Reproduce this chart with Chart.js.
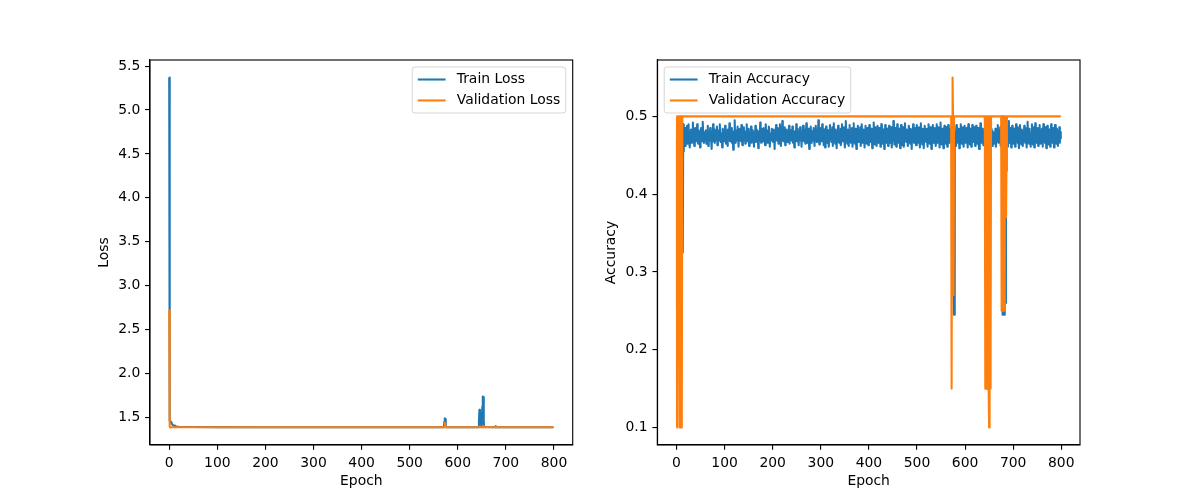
<!DOCTYPE html>
<html>
<head>
<meta charset="utf-8">
<script src="https://cdn.jsdelivr.net/npm/chart.js@4.4.1/dist/chart.umd.min.js"></script>
<style>
html,body{margin:0;padding:0;background:#fff;}
#wrap{position:relative;width:1200px;height:500px;overflow:hidden;}
.panel{position:absolute;top:0;width:600px;height:500px;}
</style>
</head>
<body>
<div id="wrap">
  <div class="panel" style="left:0"><canvas id="lossChart" width="600" height="500"></canvas></div>
  <div class="panel" style="left:600px"><canvas id="accChart" width="600" height="500"></canvas></div>
</div>
<script>
// ---------------- DATA ----------------
const xTicks = [0, 100, 200, 300, 400, 500, 600, 700, 800];
const lossTicks = [1.5, 2.0, 2.5, 3.0, 3.5, 4.0, 4.5, 5.0, 5.5];
const accTicks = [0.1, 0.2, 0.3, 0.4, 0.5];
const epochCount = 800;
const xLabel = 'Epoch';
const lossLabel = 'Loss';
const accLabel = 'Accuracy';
const lossSeriesNames = ['Train Loss', 'Validation Loss'];
const accSeriesNames = ['Train Accuracy', 'Validation Accuracy'];

// Train loss (epoch -> value, segments between listed epochs are flat)
const trainLossEpochs = [0,1,2,3,4,5,6,8,10,12,15,20,30,50,100,200,571,572,573,574,575,576,643,644,645,646,647,648,649,650,651,652,653,654,655,678,679,680,799];
const trainLossValues = [5.37,1.46,1.455,1.45,1.44,1.43,1.42,1.41,1.405,1.40,1.395,1.392,1.39,1.389,1.388,1.387,1.387,1.45,1.49,1.48,1.41,1.387,1.387,1.46,1.585,1.58,1.50,1.42,1.40,1.45,1.62,1.737,1.73,1.45,1.39,1.387,1.40,1.387,1.387];

// Validation loss
const valLossEpochs = [0,1,2,3,5,10,572,573,574,575,645,646,647,652,653,654,678,679,680,799];
const valLossValues = [2.72,1.40,1.384,1.388,1.386,1.386,1.386,1.44,1.40,1.386,1.386,1.395,1.386,1.386,1.40,1.386,1.386,1.392,1.386,1.386];

// Validation accuracy
const valAccEpochs = [0,1,2,3,4,5,6,7,8,9,10,11,12, 571,572,573,574,575,576,577, 641,642,643,644,645,648,649,650,651,652,653,654, 675,676,677,678,679,680,681,682,683,684,685,686,687, 799];
const valAccValues = [0.1,0.5,0.1,0.1,0.5,0.5,0.5,0.1,0.5,0.1,0.5,0.1,0.5, 0.5,0.15,0.5,0.55,0.5,0.27,0.5, 0.5,0.15,0.5,0.15,0.5,0.5,0.15,0.1,0.15,0.5,0.15,0.5, 0.5,0.25,0.5,0.25,0.5,0.25,0.5,0.25,0.5,0.37,0.5,0.43,0.5, 0.5];

// Train accuracy, one value per epoch (0..799)
const trainAcc = [
0.255,0.47,0.48,0.468,0.485,0.475,0.462,0.48,0.472,0.488,0.47,0.49,0.475,0.325,0.49,0.455,0.482,0.47,0.485,0.462,
0.475,0.472,0.488,0.465,0.47,0.49,0.468,0.477,0.46,0.48,0.483,0.47,0.466,0.475,0.492,0.478,0.47,0.462,0.48,0.485,
0.472,0.468,0.477,0.49,0.475,0.465,0.482,0.47,0.473,0.46,0.478,0.485,0.47,0.468,0.48,0.493,0.472,0.466,0.475,0.48,
0.47,0.482,0.465,0.475,0.471,0.488,0.462,0.478,0.474,0.469,0.485,0.476,0.47,0.458,0.48,0.472,0.49,0.468,0.475,0.483,
0.466,0.474,0.48,0.47,0.487,0.463,0.476,0.472,0.482,0.469,0.49,0.475,0.467,0.478,0.471,0.46,0.484,0.473,0.479,0.468,
0.475,0.488,0.47,0.465,0.48,0.474,0.462,0.483,0.477,0.47,0.491,0.468,0.476,0.472,0.485,0.466,0.479,0.47,0.457,0.481,
0.473,0.495,0.47,0.466,0.482,0.476,0.469,0.487,0.472,0.461,0.478,0.484,0.47,0.475,0.468,0.489,0.474,0.463,0.48,0.472,
0.486,0.47,0.476,0.465,0.481,0.473,0.49,0.468,0.477,0.471,0.484,0.462,0.479,0.474,0.47,0.487,0.466,0.476,0.482,0.469,
0.475,0.461,0.48,0.472,0.488,0.467,0.478,0.483,0.47,0.474,0.459,0.481,0.476,0.469,0.492,0.473,0.466,0.484,0.471,0.477,
0.468,0.485,0.474,0.47,0.463,0.479,0.49,0.472,0.476,0.466,0.482,0.47,0.487,0.475,0.461,0.478,0.473,0.469,0.484,0.471,
0.476,0.467,0.483,0.472,0.458,0.48,0.474,0.489,0.469,0.477,0.471,0.485,0.465,0.478,0.473,0.49,0.47,0.462,0.481,0.475,
0.494,0.472,0.468,0.479,0.474,0.486,0.463,0.477,0.47,0.483,0.475,0.467,0.48,0.472,0.488,0.465,0.476,0.471,0.482,0.469,
0.474,0.487,0.466,0.478,0.472,0.46,0.481,0.475,0.47,0.49,0.468,0.477,0.484,0.471,0.463,0.479,0.474,0.486,0.469,0.476,
0.461,0.48,0.473,0.488,0.468,0.475,0.482,0.47,0.465,0.478,0.491,0.472,0.476,0.466,0.484,0.47,0.458,0.479,0.474,0.487,
0.471,0.466,0.481,0.476,0.469,0.485,0.473,0.462,0.479,0.47,0.488,0.474,0.467,0.482,0.475,0.495,0.47,0.464,0.478,0.472,
0.485,0.468,0.476,0.49,0.471,0.479,0.463,0.483,0.474,0.46,0.478,0.487,0.47,0.475,0.466,0.482,0.473,0.461,0.477,0.489,
0.472,0.48,0.467,0.474,0.486,0.462,0.476,0.491,0.47,0.478,0.465,0.483,0.472,0.459,0.48,0.474,0.488,0.469,0.466,0.481,
0.475,0.484,0.463,0.47,0.49,0.477,0.468,0.473,0.486,0.471,0.46,0.479,0.494,0.47,0.476,0.465,0.483,0.478,0.462,0.472,
0.489,0.474,0.479,0.466,0.471,0.485,0.461,0.476,0.491,0.48,0.469,0.465,0.484,0.473,0.458,0.478,0.47,0.488,0.475,0.467,
0.48,0.472,0.486,0.462,0.474,0.49,0.478,0.466,0.47,0.483,0.476,0.46,0.481,0.488,0.469,0.474,0.465,0.485,0.479,0.463,
0.476,0.489,0.47,0.48,0.467,0.484,0.473,0.459,0.478,0.471,0.492,0.475,0.464,0.479,0.486,0.47,0.462,0.477,0.488,0.481,
0.466,0.472,0.485,0.476,0.461,0.48,0.49,0.469,0.474,0.465,0.483,0.478,0.458,0.471,0.489,0.475,0.48,0.466,0.484,0.47,
0.462,0.477,0.488,0.48,0.471,0.466,0.486,0.473,0.46,0.479,0.47,0.494,0.476,0.464,0.481,0.485,0.468,0.461,0.475,0.49,
0.479,0.466,0.472,0.484,0.476,0.459,0.48,0.489,0.47,0.474,0.463,0.486,0.478,0.461,0.471,0.491,0.475,0.48,0.467,0.483,
0.471,0.462,0.476,0.488,0.48,0.469,0.465,0.484,0.474,0.458,0.479,0.472,0.49,0.476,0.466,0.481,0.485,0.47,0.463,0.477,
0.489,0.48,0.466,0.471,0.486,0.474,0.46,0.479,0.491,0.469,0.476,0.464,0.484,0.478,0.459,0.472,0.488,0.475,0.481,0.467,
0.484,0.47,0.461,0.476,0.49,0.479,0.469,0.465,0.486,0.473,0.458,0.48,0.471,0.489,0.476,0.466,0.482,0.485,0.47,0.462,
0.474,0.49,0.481,0.466,0.47,0.486,0.475,0.46,0.479,0.492,0.471,0.476,0.464,0.484,0.48,0.459,0.472,0.488,0.474,0.478,
0.465,0.486,0.47,0.461,0.476,0.489,0.48,0.469,0.466,0.484,0.474,0.471,0.479,0.462,0.485,0.47,0.30,0.245,0.47,0.48,
0.462,0.475,0.489,0.47,0.481,0.466,0.484,0.476,0.459,0.479,0.471,0.49,0.474,0.465,0.48,0.486,0.469,0.461,0.477,0.488,
0.479,0.466,0.471,0.485,0.474,0.46,0.481,0.49,0.469,0.476,0.464,0.484,0.478,0.461,0.472,0.489,0.475,0.48,0.467,0.486,
0.471,0.462,0.476,0.488,0.48,0.469,0.465,0.485,0.474,0.458,0.479,0.472,0.491,0.476,0.466,0.481,0.484,0.47,0.463,0.477,
0.481,0.47,0.466,0.479,0.475,0.40,0.15,0.47,0.48,0.15,0.472,0.476,0.465,0.48,0.47,0.484,0.462,0.475,0.481,0.468,
0.465,0.479,0.471,0.484,0.461,0.476,0.48,0.469,0.489,0.466,0.474,0.482,0.47,0.486,0.462,0.477,0.48,0.472,0.245,0.245,
0.47,0.245,0.47,0.29,0.26,0.35,0.472,0.49,0.476,0.461,0.481,0.494,0.47,0.466,0.485,0.474,0.46,0.479,0.488,0.471,
0.476,0.465,0.484,0.479,0.461,0.47,0.49,0.474,0.481,0.466,0.486,0.471,0.459,0.475,0.489,0.48,0.469,0.464,0.483,0.476,
0.462,0.479,0.471,0.488,0.474,0.466,0.485,0.48,0.46,0.47,0.493,0.476,0.481,0.465,0.484,0.472,0.461,0.478,0.474,0.49,
0.47,0.464,0.48,0.486,0.46,0.475,0.491,0.471,0.479,0.466,0.474,0.485,0.462,0.481,0.47,0.489,0.476,0.465,0.48,0.472,
0.484,0.461,0.475,0.49,0.471,0.479,0.466,0.486,0.474,0.459,0.48,0.488,0.47,0.476,0.464,0.483,0.479,0.461,0.472,0.49,
0.476,0.481,0.466,0.47,0.485,0.46,0.474,0.489,0.48,0.471,0.465,0.484,0.476,0.462,0.479,0.47,0.486,0.466,0.48,0.472
];

// ---------------- STYLE ----------------
const FONT_FAMILY = '"DejaVu Sans", sans-serif';
const FONT_SIZE = 13.9;
const BLUE = '#1f77b4';
const ORANGE = '#ff7f0e';
const LINE_W = 2.08;
const SPINE_W = 1.11;
const TICK_LEN = 4.86;
const TICK_PAD = 4.86;

Chart.defaults.font.family = FONT_FAMILY;
Chart.defaults.font.size = FONT_SIZE;
Chart.defaults.color = '#000';

function pointsFrom(xs, ys) { return xs.map((x, i) => ({ x: x, y: ys[i] })); }
function autoRange(vals, frac) {
  const lo = Math.min(...vals), hi = Math.max(...vals), p = (hi - lo) * frac;
  return [lo - p, hi + p];
}

const xRange = autoRange([0, epochCount - 1], 0.05);

const framePlugin = {
  id: 'frame',
  afterDraw(chart) {
    const { ctx, chartArea: a } = chart;
    ctx.save();
    ctx.strokeStyle = '#000';
    ctx.lineWidth = SPINE_W;
    ctx.strokeRect(a.left, a.top, a.right - a.left, a.bottom - a.top);
    ctx.restore();
  }
};

const legendPlugin = {
  id: 'mplLegend',
  afterDraw(chart, args, opts) {
    const ctx = chart.ctx, a = chart.chartArea, fs = FONT_SIZE;
    const pad = 0.4 * fs, hl = 2 * fs, htp = 0.8 * fs, ls = 0.5 * fs, bap = 0.5 * fs, rowH = 14;
    const ds = chart.data.datasets;
    ctx.save();
    ctx.font = fs + 'px ' + FONT_FAMILY;
    const tw = Math.max(...ds.map(d => ctx.measureText(d.label).width));
    const w = 2 * pad + hl + htp + tw;
    const h = 2 * pad + ds.length * rowH + (ds.length - 1) * ls;
    const x0 = opts.loc === 'upper right' ? a.right - bap - w : a.left + bap;
    const y0 = a.top + bap;
    const r = 0.2 * fs;
    ctx.beginPath();
    ctx.moveTo(x0 + r, y0);
    ctx.lineTo(x0 + w - r, y0);
    ctx.arcTo(x0 + w, y0, x0 + w, y0 + r, r);
    ctx.lineTo(x0 + w, y0 + h - r);
    ctx.arcTo(x0 + w, y0 + h, x0 + w - r, y0 + h, r);
    ctx.lineTo(x0 + r, y0 + h);
    ctx.arcTo(x0, y0 + h, x0, y0 + h - r, r);
    ctx.lineTo(x0, y0 + r);
    ctx.arcTo(x0, y0, x0 + r, y0, r);
    ctx.closePath();
    ctx.fillStyle = 'rgba(255,255,255,0.8)';
    ctx.fill();
    ctx.strokeStyle = 'rgba(204,204,204,0.8)';
    ctx.lineWidth = 1;
    ctx.stroke();
    ds.forEach((d, i) => {
      const cy = y0 + pad + rowH / 2 + i * (rowH + ls);
      ctx.beginPath();
      ctx.moveTo(x0 + pad, cy);
      ctx.lineTo(x0 + pad + hl, cy);
      ctx.strokeStyle = d.borderColor;
      ctx.lineWidth = LINE_W;
      ctx.stroke();
      ctx.fillStyle = '#000';
      ctx.textBaseline = 'middle';
      ctx.textAlign = 'left';
      ctx.fillText(d.label, x0 + pad + hl + htp, cy);
    });
    ctx.restore();
  }
};

function axisCommon() {
  return {
    grid: { drawOnChartArea: false, drawTicks: true, tickLength: TICK_LEN, color: '#000', lineWidth: SPINE_W },
    border: { display: true, color: '#000', width: SPINE_W }
  };
}

function makeChart(canvasId, cfg) {
  const xOpts = Object.assign(axisCommon(), {
    type: 'linear',
    min: xRange[0],
    max: xRange[1],
    afterBuildTicks: s => { s.ticks = xTicks.map(v => ({ value: v })); },
    afterFit: s => { s.height = 44.3; },
    ticks: { color: '#000', padding: TICK_PAD, maxRotation: 0, autoSkip: false, callback: v => String(v) },
    title: { display: true, text: xLabel, color: '#000', padding: 0, font: { size: FONT_SIZE } }
  });
  const yOpts = Object.assign(axisCommon(), {
    type: 'linear',
    min: cfg.yRange[0],
    max: cfg.yRange[1],
    afterBuildTicks: s => { s.ticks = cfg.yTicks.map(v => ({ value: v })); },
    afterFit: s => { s.width = 53.8; },
    ticks: { color: '#000', padding: TICK_PAD, autoSkip: false, callback: v => Number(v).toFixed(1) },
    title: { display: true, text: cfg.yLabel, color: '#000', padding: 0, font: { size: FONT_SIZE } }
  });
  const lineStyle = { pointRadius: 0, pointHoverRadius: 0, borderWidth: LINE_W, tension: 0, fill: false, borderJoinStyle: 'round', borderCapStyle: 'butt' };
  return new Chart(document.getElementById(canvasId), {
    type: 'line',
    data: {
      datasets: [
        Object.assign({ label: cfg.names[0], data: cfg.series[0], borderColor: BLUE, backgroundColor: BLUE, order: 1 }, lineStyle),
        Object.assign({ label: cfg.names[1], data: cfg.series[1], borderColor: ORANGE, backgroundColor: ORANGE, order: 0 }, lineStyle)
      ]
    },
    options: {
      responsive: false,
      animation: false,
      events: [],
      layout: { padding: cfg.padding },
      plugins: { legend: { display: false }, tooltip: { enabled: false }, mplLegend: { loc: cfg.loc } },
      scales: { x: xOpts, y: yOpts }
    },
    plugins: [framePlugin, legendPlugin]
  });
}

const trainLossPts = pointsFrom(trainLossEpochs, trainLossValues);
const valLossPts = pointsFrom(valLossEpochs, valLossValues);
const trainAccPts = trainAcc.map((v, i) => ({ x: i, y: v }));
const valAccPts = pointsFrom(valAccEpochs, valAccValues);

makeChart('lossChart', {
  names: lossSeriesNames,
  series: [trainLossPts, valLossPts],
  yTicks: lossTicks,
  yLabel: lossLabel,
  yRange: autoRange(trainLossValues.concat(valLossValues), 0.05),
  padding: { left: 96.2, right: 27.3, top: 60, bottom: 10.7 },
  loc: 'upper right'
});

makeChart('accChart', {
  names: accSeriesNames,
  series: [trainAccPts, valAccPts],
  yTicks: accTicks,
  yLabel: accLabel,
  yRange: autoRange(trainAcc.concat(valAccValues), 0.05),
  padding: { left: 3.5, right: 120, top: 60, bottom: 10.7 },
  loc: 'upper left'
});
</script>
</body>
</html>
